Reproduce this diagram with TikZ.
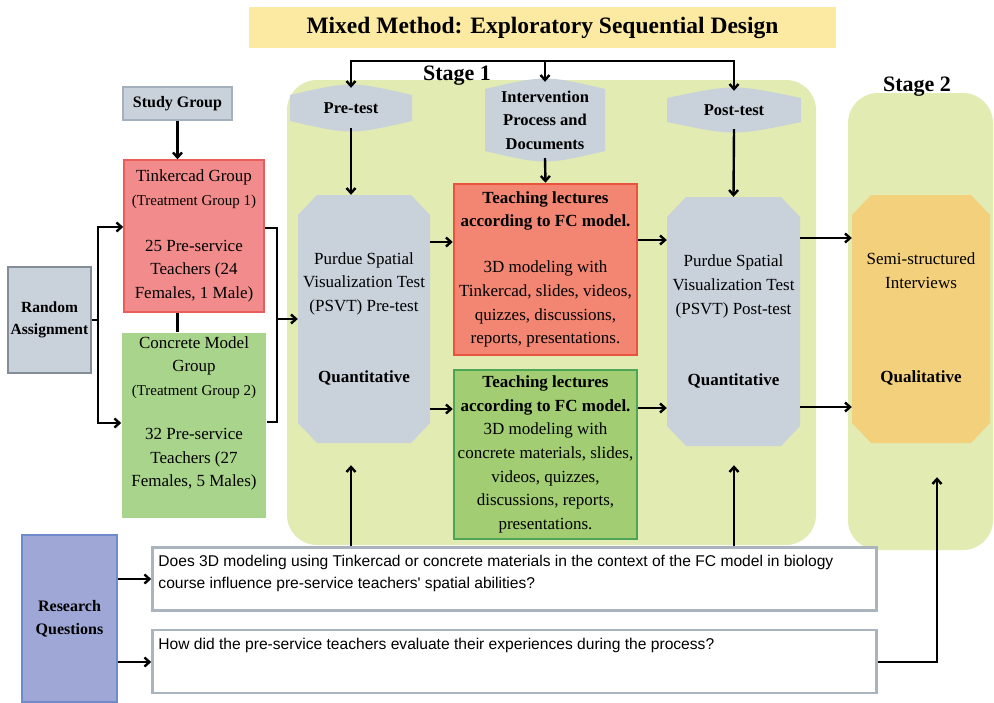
\documentclass[tikz,border=0pt]{standalone}
\usepackage{fontspec}
\setmainfont{Liberation Serif}
\newfontfamily\qfont{Liberation Sans}
\usetikzlibrary{arrows.meta, positioning, calc}

\definecolor{titlefill}{HTML}{FCE9A2}
\definecolor{stagefill}{HTML}{E2EBB2}
\definecolor{grayfill}{HTML}{C9D1DB}
\definecolor{grayline}{HTML}{A3B0BE}
\definecolor{tinkfill}{HTML}{F28C8C}
\definecolor{tinkline}{HTML}{EA5D5D}
\definecolor{redfill}{HTML}{F28672}
\definecolor{redline}{HTML}{E9543F}
\definecolor{concfill}{HTML}{A9D48B}
\definecolor{greenfill}{HTML}{A2CD72}
\definecolor{greenline}{HTML}{4DA556}
\definecolor{orangefill}{HTML}{F3D07B}
\definecolor{rqfill}{HTML}{9FA7D7}
\definecolor{rqline}{HTML}{6F8BCB}
\definecolor{qline}{HTML}{AAB4BF}

\tikzset{
  body/.style={font=\fontsize{17}{23.7}\selectfont, align=center, inner sep=0pt},
  titlebox/.style={fill=titlefill, minimum width=587pt, minimum height=41pt,
    font=\bfseries\fontsize{23.5}{26}\selectfont},
  stagelbl/.style={font=\bfseries\fontsize{22}{24}\selectfont, inner sep=0pt},
  tagtext/.style={font=\bfseries\fontsize{16.5}{23.5}\selectfont, align=center, inner sep=0pt},
  teachbox/.style={body, line width=2.5pt},
  grpbox/.style={body, line width=1.5pt},
  graybox/.style={fill=grayfill, draw=grayline, line width=1.5pt, align=center, inner sep=0pt},
  qbox/.style={draw=qline, fill=white, line width=2.5pt},
  qtext/.style={anchor=north west, inner xsep=7pt, inner ysep=9pt, align=left,
    font=\qfont\fontsize{15.6}{21.5}\selectfont},
  conn/.style={line width=2.4pt},
  conarrow/.style={conn, -{Straight Barb[length=5pt,width=9pt]}}
}

% x, y, half width, half height
\newcommand{\greytag}[4]{%
  \fill[grayfill] ({#1-#3},{#2-#4}) .. controls ({#1},{#2-#4-14}) .. ({#1+#3},{#2-#4})
    -- ({#1+#3},{#2+#4}) .. controls ({#1},{#2+#4+14}) .. ({#1-#3},{#2+#4}) -- cycle;}
% x, y, half width, half height, colour
\newcommand{\octfill}[5]{%
  \fill[#5] ({#1-#3+19},{#2-#4}) -- ({#1+#3-19},{#2-#4}) -- ({#1+#3},{#2-#4+20})
    -- ({#1+#3},{#2+#4-20}) -- ({#1+#3-19},{#2+#4}) -- ({#1-#3+19},{#2+#4})
    -- ({#1-#3},{#2+#4-20}) -- ({#1-#3},{#2-#4+20}) -- cycle;}

\begin{document}
\begin{tikzpicture}[x=1pt, y=-1pt]
    \useasboundingbox (0,0) rectangle (994,702);

    % stages
    \fill[stagefill, rounded corners=30pt] (287,80) rectangle (816,545);
    \fill[stagefill, rounded corners=30pt] (848,93) rectangle (993,550);
    \greytag{351}{108}{61}{13}
    \greytag{545}{120}{60}{31}
    \greytag{734}{110}{67}{12}
    \octfill{364}{319}{66}{124}{grayfill}
    \octfill{733.5}{321.5}{66.5}{124.5}{grayfill}
    \octfill{921}{319}{69}{124}{orangefill}

    \node[titlebox] (title) at (542.5,27.5) {Mixed Method: Exploratory Sequential Design};
    \node[stagelbl] (stage1) at (457,76) {Stage 1};
    \node[stagelbl] (stage2) at (917,87) {Stage 2};

    \node[tagtext, minimum width=122pt, minimum height=40pt] (pre) at (351,108) {Pre-test};
    \node[tagtext, minimum width=120pt, minimum height=76pt] (interv) at (545,120)
        {Intervention\\Process and\\Documents};
    \node[tagtext, minimum width=134pt, minimum height=38pt] (post) at (734,110) {Post-test};

    \node[body, minimum width=132pt, minimum height=248pt] (psvtpre) at (364,319)
        {Purdue Spatial\\Visualization Test\\(PSVT) Pre-test\\[47.4pt]\textbf{Quantitative}};
    \node[body, minimum width=133pt, minimum height=249pt] (psvtpost) at (733.5,321.5)
        {Purdue Spatial\\Visualization Test\\(PSVT) Post-test\\[47.4pt]\textbf{Quantitative}};
    \node[body, minimum width=138pt, minimum height=248pt] (semi) at (921,319)
        {Semi-structured\\Interviews\\[71pt]\textbf{Qualitative}};

    \node[teachbox, fill=redfill, draw=redline, minimum width=183pt, minimum height=171pt]
        (lecttink) at (545.5,269.5)
        {\textbf{Teaching lectures}\\\textbf{according to FC model.}\\[22.3pt]3D modeling with\\
         Tinkercad, slides, videos,\\quizzes, discussions,\\reports, presentations.};
    \node[teachbox, fill=greenfill, draw=greenline, minimum width=183pt, minimum height=169pt]
        (lectconc) at (545.5,454.5)
        {\textbf{Teaching lectures}\\\textbf{according to FC model.}\\3D modeling with\\
         concrete materials, slides,\\videos, quizzes,\\discussions, reports,\\presentations.};

    \node[graybox, minimum width=109pt, minimum height=33pt,
        font=\bfseries\fontsize{16}{20}\selectfont] (study) at (177.5,103.5) {Study Group};
    \node[grpbox, fill=tinkfill, draw=tinkline, minimum width=140pt, minimum height=152pt]
        (tinker) at (194,236)
        {Tinkercad Group\\{\fontsize{15}{22}\selectfont(Treatment Group 1)}\\[22.3pt]
         25 Pre-service\\Teachers (24\\Females, 1 Male)};
    \node[grpbox, fill=concfill, minimum width=144pt, minimum height=185pt]
        (concrete) at (194,425.5)
        {Concrete Model\\Group\\{\fontsize{15}{22}\selectfont(Treatment Group 2)}\\[20.3pt]
         32 Pre-service\\Teachers (27\\Females, 5 Males)\\[4pt]\mbox{}};
    \node[graybox, draw=grayline!80!black, minimum width=83pt, minimum height=106pt,
        font=\bfseries\fontsize{15.5}{22}\selectfont] (random) at (49.5,320) {Random\\Assignment};

    \node[fill=rqfill, draw=rqline, line width=2pt, minimum width=95pt, minimum height=167pt,
        align=center, font=\bfseries\fontsize{16}{23}\selectfont] (rq) at (69.5,618.5)
        {Research\\Questions};
    \node[qbox, minimum width=724pt, minimum height=63pt,
        label={[qtext]north west:{Does 3D modeling using Tinkercad or concrete materials in the context of the FC model in biology\\course influence pre-service teachers\textquotesingle{} spatial abilities?}}]
        (rqa) at (514.5,579) {};
    \node[qbox, minimum width=724pt, minimum height=63pt,
        label={[qtext]north west:{How did the pre-service teachers evaluate their experiences during the process?}}]
        (rqb) at (514.5,661.5) {};

    % connectors
    \coordinate (topl) at (351,61);
    \coordinate (topr) at (734,61);
    \draw[conarrow] (topr) -| (pre.north);
    \draw[conarrow] (topl) -| (post.north);
    \draw[conarrow] (interv.north |- topl) -- (interv.north);
    \draw[conarrow] (pre.south) -- (pre.south |- psvtpre.north);
    \draw[conarrow] (interv.south) -- (lecttink.north);
    \draw[conarrow] (post.south) -- (psvtpost.north);

    \draw[conarrow] (psvtpre.east |- 0,242) -- (lecttink.west |- 0,242);
    \draw[conarrow] (psvtpre.east |- 0,409) -- (lectconc.west |- 0,409);
    \draw[conarrow] (lecttink.east |- 0,240) -- (psvtpost.west |- 0,240);
    \draw[conarrow] (lectconc.east |- 0,408) -- (psvtpost.west |- 0,408);
    \draw[conarrow] (psvtpost.east |- 0,238) -- (semi.west |- 0,238);
    \draw[conarrow] (psvtpost.east |- 0,407) -- (semi.west |- 0,407);

    \draw[conarrow] (study.south) -- (study.south |- tinker.north);
    \draw[conn] (study.south |- tinker.south) -- (study.south |- concrete.north);

    \coordinate (forkt) at (98,227);
    \coordinate (forkb) at (98,423);
    \draw[conn] (random.east) -- (random.east -| forkt);
    \draw[conarrow] (forkb) -- (forkt) -- (forkt -| tinker.west);
    \draw[conarrow] (forkt) -- (forkb) -- (forkb -| concrete.west);

    \coordinate (mrgt) at (277,228);
    \coordinate (mrgb) at (277,422);
    \draw[conn] (tinker.east |- mrgt) -- (mrgt) -- (mrgb) -- (concrete.east |- mrgb);
    \draw[conarrow] (mrgt |- 0,319) -- (psvtpre.west |- 0,319);

    \draw[conarrow] (rq.east |- rqa.west) -- (rqa.west);
    \draw[conarrow] (rq.east |- 0,662) -- (rqb.west |- 0,662);
    \draw[conarrow] (rqa.north -| pre) -- ($(pre |- psvtpre.south)+(0,22)$);
    \draw[conarrow] (rqa.north -| post) -- ($(post |- psvtpost.south)+(0,19)$);
    \draw[conarrow] (rqb.east |- 0,662) -| ($(semi.south)+(16,34)$);
\end{tikzpicture}
\end{document}
